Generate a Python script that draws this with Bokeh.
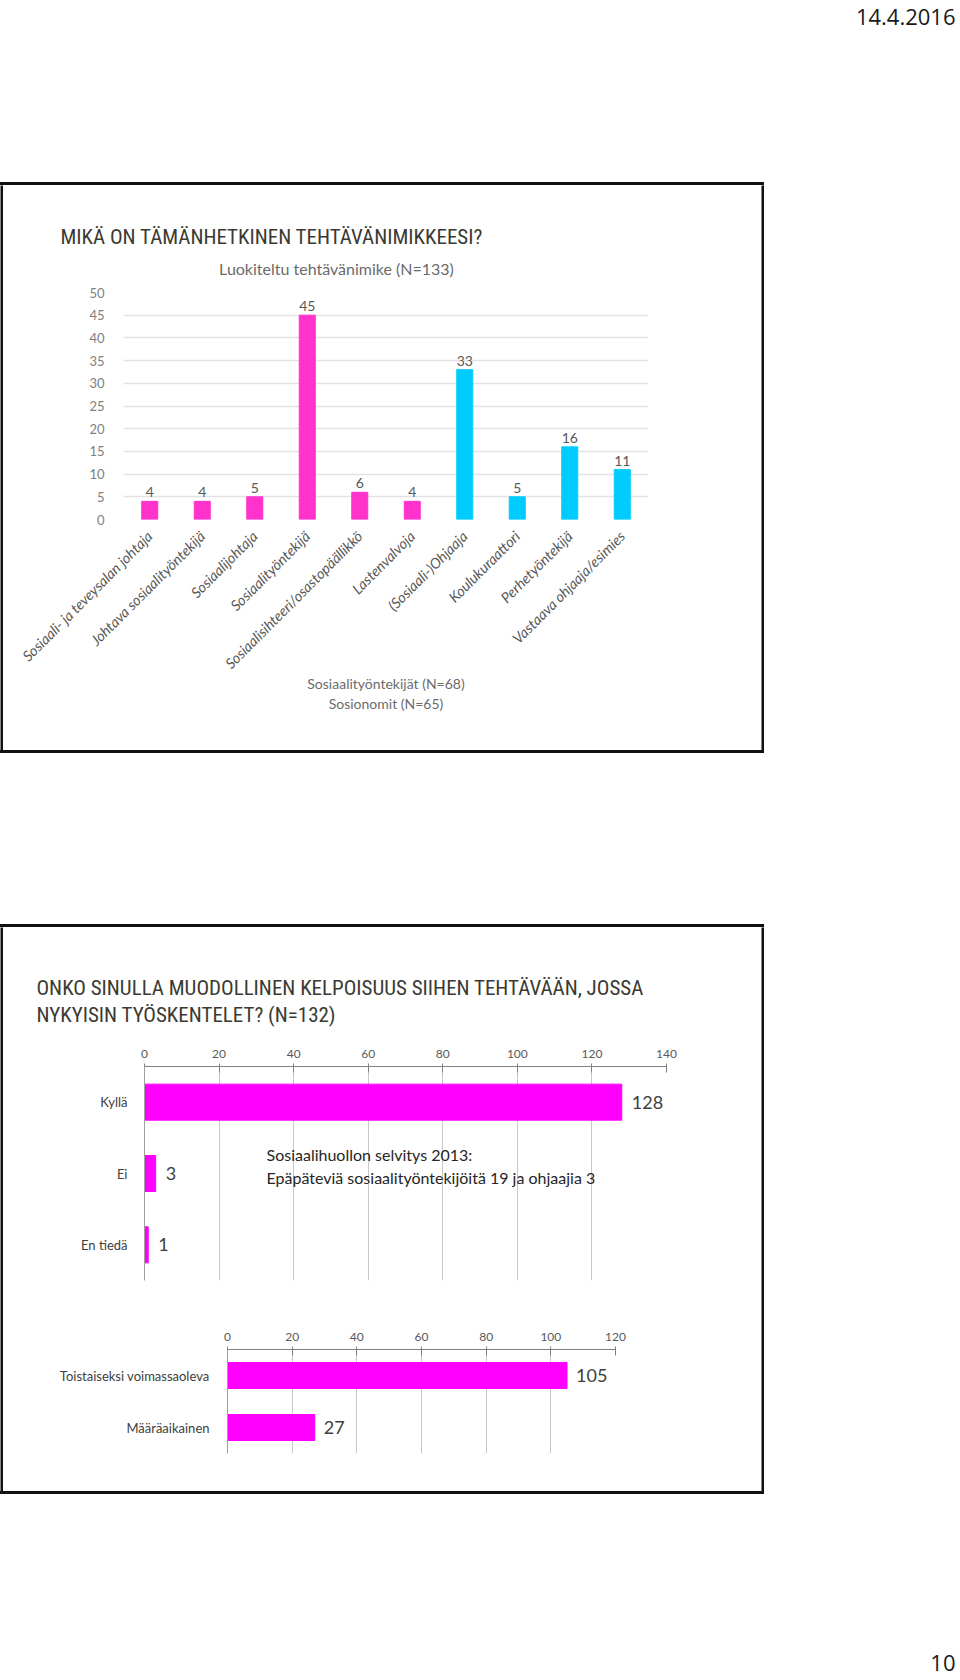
from math import pi

from bokeh.plotting import figure
from bokeh.models import Range1d, FactorRange, FixedTicker, Label, ColumnDataSource, Spacer
from bokeh.layouts import column, row
from bokeh.core.properties import value
from bokeh.core.validation import silence
from bokeh.core.validation.warnings import MISSING_RENDERERS
from bokeh.embed import file_html
from bokeh.resources import INLINE

silence(MISSING_RENDERERS, True)

# ---------------- data ----------------
date_text = "14.4.2016"
page_number = "10"

title1 = "MIKÄ ON TÄMÄNHETKINEN TEHTÄVÄNIMIKKEESI?"
subtitle1 = "Luokiteltu tehtävänimike (N=133)"
job_titles = [
    "Sosiaali- ja teveysalan johtaja",
    "Johtava sosiaalityöntekijä",
    "Sosiaalijohtaja",
    "Sosiaalityöntekijä",
    "Sosiaalisihteeri/osastopäällikkö",
    "Lastenvalvoja",
    "(Sosiaali-)Ohjaaja",
    "Koulukuraattori",
    "Perhetyöntekijä",
    "Vastaava ohjaaja/esimies",
]
job_counts = [4, 4, 5, 45, 6, 4, 33, 5, 16, 11]
job_groups = ["sw", "sw", "sw", "sw", "sw", "sw", "so", "so", "so", "so"]
group_notes = ["Sosiaalityöntekijät (N=68)", "Sosionomit (N=65)"]
y1_ticks = [0, 5, 10, 15, 20, 25, 30, 35, 40, 45, 50]

title2_lines = ["ONKO SINULLA MUODOLLINEN KELPOISUUS SIIHEN TEHTÄVÄÄN, JOSSA",
                "NYKYISIN TYÖSKENTELET? (N=132)"]
answers = ["Kyllä", "Ei", "En tiedä"]
answer_counts = [128, 3, 1]
x2_ticks = [0, 20, 40, 60, 80, 100, 120, 140]
note2_lines = ["Sosiaalihuollon selvitys 2013:",
               "Epäpäteviä sosiaalityöntekijöitä 19 ja ohjaajia 3"]

contract_types = ["Toistaiseksi voimassaoleva", "Määräaikainen"]
contract_counts = [105, 27]
x3_ticks = [0, 20, 40, 60, 80, 100, 120]

# ---------------- style ----------------
PINK = "#FF33CC"
CYAN = "#00CCFF"
MAGENTA = "#FF00FF"
BORDER = "#111111"
TITLE_FONT = "Roboto Condensed, DejaVu Sans Condensed, Open Sans Condensed, Roboto"
BODY_FONT = "Lato"
INNER_W = 758


def lbl(p, x, y, text, size, color, font=BODY_FONT, align="left"):
    # y is the wanted baseline distance from the frame bottom
    p.add_layout(Label(x=x, y=y + round(0.38 * size), x_units="screen", y_units="screen",
                       text=text, text_font=font, text_font_size=f"{size}px",
                       text_color=color, text_align=align, text_baseline="alphabetic"))


def blank(w, h, fill="white"):
    return figure(width=w, height=h, x_range=Range1d(0, 1), y_range=Range1d(0, 1),
                  x_axis_type=None, y_axis_type=None, output_backend="svg",
                  toolbar_location=None, min_border=0, outline_line_color=None,
                  background_fill_color=fill, border_fill_color=fill)


def hbar_line():
    return Spacer(width=INNER_W + 6, height=3, styles={"background-color": BORDER})


def boxed(parts, inner_h):
    inner = column(*[column(c) for c in parts])
    return column(
        hbar_line(),
        row(column(blank(3, inner_h, BORDER)), inner, column(blank(3, inner_h, BORDER))),
        hbar_line(),
    )


# ---------------- header ----------------
header = blank(956, 182)
lbl(header, 955, 158, date_text, 22, "#1a1a1a", font="Open Sans", align="right")

# ---------------- box 1 ----------------
t1 = blank(INNER_W, 98)
lbl(t1, 57, 39, title1, 21, "#3b3a32", font=TITLE_FONT)
lbl(t1, 333, 9, subtitle1, 16, "#6b6b6b", align="center")

colors1 = [PINK if g == "sw" else CYAN for g in job_groups]
src1 = ColumnDataSource(dict(job=job_titles, count=job_counts, color=colors1,
                             label=[str(c) for c in job_counts]))
p1 = figure(width=INNER_W, height=467,
            x_range=FactorRange(factors=job_titles, range_padding=0),
            y_range=Range1d(0, 50), output_backend="svg", toolbar_location=None,
            min_border_left=120, min_border_right=113, min_border_top=9,
            min_border_bottom=231, outline_line_color=None)
p1.vbar(x="job", top="count", width=0.305, color="color", source=src1)
p1.text(x="job", y="count", text="label", source=src1, text_align="center",
        text_baseline="bottom", y_offset=-4, text_font=value(BODY_FONT),
        text_font_size="14px", text_color="#595959")

p1.xaxis.axis_line_color = None
p1.xaxis.major_tick_line_color = None
p1.xaxis.minor_tick_line_color = None
p1.xaxis.major_label_orientation = pi / 4
p1.xaxis.major_label_standoff = 8
p1.xaxis.major_label_text_font = BODY_FONT
p1.xaxis.major_label_text_font_style = "italic"
p1.xaxis.major_label_text_font_size = "14.5px"
p1.xaxis.major_label_text_color = "#595959"
p1.xaxis.axis_label = "\n".join(group_notes)
p1.xaxis.axis_label_standoff = -6
p1.xaxis.axis_label_text_font = BODY_FONT
p1.xaxis.axis_label_text_font_style = "normal"
p1.xaxis.axis_label_text_font_size = "14px"
p1.xaxis.axis_label_text_color = "#6b6b6b"

p1.yaxis.ticker = FixedTicker(ticks=y1_ticks)
p1.yaxis.axis_line_color = None
p1.yaxis.major_tick_line_color = None
p1.yaxis.minor_tick_line_color = None
p1.yaxis.major_label_standoff = 13
p1.yaxis.major_label_text_font = BODY_FONT
p1.yaxis.major_label_text_font_size = "13px"
p1.yaxis.major_label_text_color = "#808080"

p1.xgrid.grid_line_color = None
p1.ygrid.grid_line_color = "#e3e3e3"
p1.ygrid.grid_line_width = 1.5

box1 = boxed([t1, p1], 565)

# ---------------- spacer ----------------
gap = Spacer(width=10, height=171)

# ---------------- box 2 ----------------
t2 = blank(INNER_W, 108)
lbl(t2, 33, 40, title2_lines[0], 21, "#3b3a32", font=TITLE_FONT)
lbl(t2, 33, 13, title2_lines[1], 21, "#3b3a32", font=TITLE_FONT)


def style_hbar(p, ticks, standoff):
    p.xaxis.ticker = FixedTicker(ticks=ticks)
    p.xaxis.axis_line_color = "#808080"
    p.xaxis.major_tick_line_color = "#808080"
    p.xaxis.major_tick_out = 3
    p.xaxis.major_tick_in = 6
    p.xaxis.minor_tick_line_color = None
    p.xaxis.major_label_standoff = 6
    p.xaxis.major_label_text_font = BODY_FONT
    p.xaxis.major_label_text_font_size = "12px"
    p.xaxis.major_label_text_color = "#595959"
    p.yaxis.axis_line_color = "#a0a0a0"
    p.yaxis.major_tick_line_color = None
    p.yaxis.minor_tick_line_color = None
    p.yaxis.major_label_standoff = standoff
    p.yaxis.major_label_text_font = BODY_FONT
    p.yaxis.major_label_text_font_size = "13px"
    p.yaxis.major_label_text_color = "#404040"
    p.xgrid.grid_line_color = "#c8c8c8"
    p.ygrid.grid_line_color = None


src2 = ColumnDataSource(dict(answer=answers, count=answer_counts,
                             label=[str(c) for c in answer_counts]))
p2 = figure(width=INNER_W, height=265, x_range=Range1d(0, 140),
            y_range=FactorRange(factors=answers[::-1], range_padding=0),
            x_axis_location="above", output_backend="svg", toolbar_location=None,
            min_border_left=141, min_border_right=95, min_border_top=31,
            min_border_bottom=20, outline_line_color=None)
p2.hbar(y="answer", right="count", height=0.505, color=MAGENTA, source=src2)
p2.text(x="count", y="answer", text="label", source=src2, x_offset=10,
        text_baseline="middle", text_font=value(BODY_FONT), text_font_size="18px",
        text_color="#404040")
style_hbar(p2, x2_ticks, 11)
# annotation (frame-relative: left page 144, bottom page 1280)
lbl(p2, 122, 120, note2_lines[0], 16, "#262626")
lbl(p2, 122, 97, note2_lines[1], 16, "#262626")

src3 = ColumnDataSource(dict(kind=contract_types, count=contract_counts,
                             label=[str(c) for c in contract_counts]))
p3 = figure(width=INNER_W, height=191, x_range=Range1d(0, 120),
            y_range=FactorRange(factors=contract_types[::-1], range_padding=0),
            x_axis_location="above", output_backend="svg", toolbar_location=None,
            min_border_left=224, min_border_right=146, min_border_top=49,
            min_border_bottom=38, outline_line_color=None)
p3.hbar(y="kind", right="count", height=0.5, color=MAGENTA, source=src3)
p3.text(x="count", y="kind", text="label", source=src3, x_offset=9,
        text_baseline="middle", text_font=value(BODY_FONT), text_font_size="18px",
        text_color="#404040")
style_hbar(p3, x3_ticks, 12)

box2 = boxed([t2, p2, p3], 564)

# ---------------- footer ----------------
footer = blank(956, 184)
lbl(footer, 955, 8, page_number, 22, "#1a1a1a", font="Open Sans", align="right")

page = column(column(header), box1, gap, box2, column(footer))
open("out.html", "w").write(file_html(page, INLINE))
